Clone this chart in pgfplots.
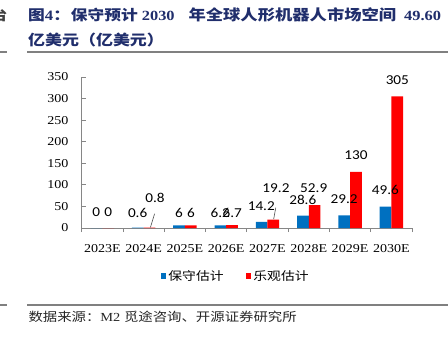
\documentclass[border=0pt]{standalone}
\usepackage{fontspec}
\usepackage{pgfplots}
\pgfplotsset{compat=1.18}
\newfontfamily\cjk[FakeStretch=1.17]{Noto Sans CJK SC}
\newfontfamily\tnr[FakeStretch=1.17]{Liberation Serif}
\newfontfamily\labfont[FakeStretch=1.12]{Carlito}
\definecolor{cblue}{RGB}{0,112,192}
\definecolor{cred}{RGB}{255,0,0}
\definecolor{titleblue}{RGB}{32,46,108}
\definecolor{rulegray}{RGB}{128,128,128}
\definecolor{axgray}{RGB}{134,134,134}
\begin{document}
\begin{tikzpicture}
\useasboundingbox (0bp,0bp) rectangle (448bp,-337bp);
% title
\begin{scope}[every node/.style={anchor=base west, inner sep=0pt, text=titleblue}]
\node[text=black!75] at (-9bp,-20bp) {\fontsize{14bp}{16bp}\cjk\bfseries 台};
\node at (28bp,-20bp) {\fontsize{14.3bp}{16bp}\cjk\bfseries 图{\tnr\bfseries 4}：};
\node at (70.7bp,-20bp) {\fontsize{14.3bp}{16bp}\cjk\bfseries 保守预计};
\node at (141.7bp,-20bp) {\fontsize{14bp}{16bp}\tnr\bfseries 2030};
\node at (188.3bp,-20bp) {\fontsize{14.8bp}{16bp}\cjk\bfseries 年全球人形机器人市场空间};
\node at (404bp,-20bp) {\fontsize{14bp}{16bp}\tnr\bfseries 49.60};
\node at (28bp,-45bp) {\fontsize{14.5bp}{16bp}\cjk\bfseries 亿美元（亿美元）};
\end{scope}
\draw[rulegray, line width=1.1bp] (27.3bp,-52bp) -- (448bp,-52bp);
\draw[rulegray, line width=1.1bp] (0bp,-52bp) -- (7.3bp,-52bp);
\draw[rulegray, line width=1.1bp] (27.3bp,-305bp) -- (448bp,-305bp);
\draw[rulegray, line width=1.1bp] (0bp,-305bp) -- (7.3bp,-305bp);
\node[anchor=base west, inner sep=0pt, text=black!85] at (28.3bp,-321bp)
  {\fontsize{12.3bp}{14bp}\cjk 数据来源：{\tnr M2 }觅途咨询、开源证券研究所};
\begin{axis}[
  at={(81.7bp,-228bp)}, anchor=south west,
  scale only axis, width=330.3bp, height=151bp,
  xmin=-0.5, xmax=7.5, ymin=0, ymax=350,
  axis x line*=bottom, axis y line*=left,
  axis line style={axgray, line width=0.8bp},
  every tick/.style={axgray, line width=0.8bp},
  tick align=inside,
  xtick={0,...,7},
  xticklabels={2023E,2024E,2025E,2026E,2027E,2028E,2029E,2030E},
  major x tick style={draw=none},
  minor xtick={-0.5,0.5,...,7.5},
  minor tick length=4bp,
  ytick={0,50,...,350},
  major tick length=4bp,
  tick label style={font=\fontsize{12bp}{14bp}\tnr},
  xticklabel style={anchor=north, inner sep=0pt, yshift=-12.5bp},
  yticklabel style={anchor=east, inner sep=0pt, xshift=-13bp},
  /pgf/number format/assume math mode=true,
  ybar=0pt, bar width=11.7bp,
  clip=false,
  legend columns=2,
  legend style={at={(0.466,-0.318)}, anchor=center, draw=none, fill=none,
    font=\fontsize{11.8bp}{14bp}\cjk,
    /tikz/every even column/.append style={column sep=20bp}},
  legend image code/.code={\fill[#1] (-2.5bp,-2.8bp) rectangle (3.3bp,3bp);},
]
\addplot[fill=cblue, draw=none] coordinates {(0,0) (1,0.6) (2,6) (3,6.2) (4,14.2) (5,28.6) (6,29.2) (7,49.6)};
\addlegendentry{保守估计}
\addplot[fill=cred, draw=none] coordinates {(0,0) (1,0.8) (2,6) (3,6.7) (4,19.2) (5,52.9) (6,130) (7,305)};
\addlegendentry{乐观估计}
\begin{scope}[every node/.style={inner sep=0pt, font=\fontsize{13.6bp}{15bp}\labfont}]
\node at (axis cs:-0.145,35.9) {0};
\node at (axis cs:0.145,35.9) {0};
\node at (axis cs:0.855,35.9) {0.6};
\node at (axis cs:1.275,70.7) {0.8};
\node at (axis cs:1.855,35.9) {6};
\node at (axis cs:2.145,35.9) {6};
\node at (axis cs:2.855,35.9) {6.2};
\node at (axis cs:3.145,35.9) {6.7};
\node at (axis cs:3.85,49.8) {14.2};
\node at (axis cs:4.206,91.6) {19.2};
\node at (axis cs:4.855,66.1) {28.6};
\node at (axis cs:5.12,92.7) {52.9};
\node at (axis cs:5.855,67.2) {29.2};
\node at (axis cs:6.143,169.2) {130};
\node at (axis cs:6.855,88.1) {49.6};
\node at (axis cs:7.145,343) {305};
\end{scope}
\draw[black!70, line width=0.6bp] (axis cs:1.165,1.5) -- (axis cs:1.265,33);
\draw[black!70, line width=0.6bp] (axis cs:4.15,20.5) -- (axis cs:4.2,47);
\end{axis}
\end{tikzpicture}
\end{document}
